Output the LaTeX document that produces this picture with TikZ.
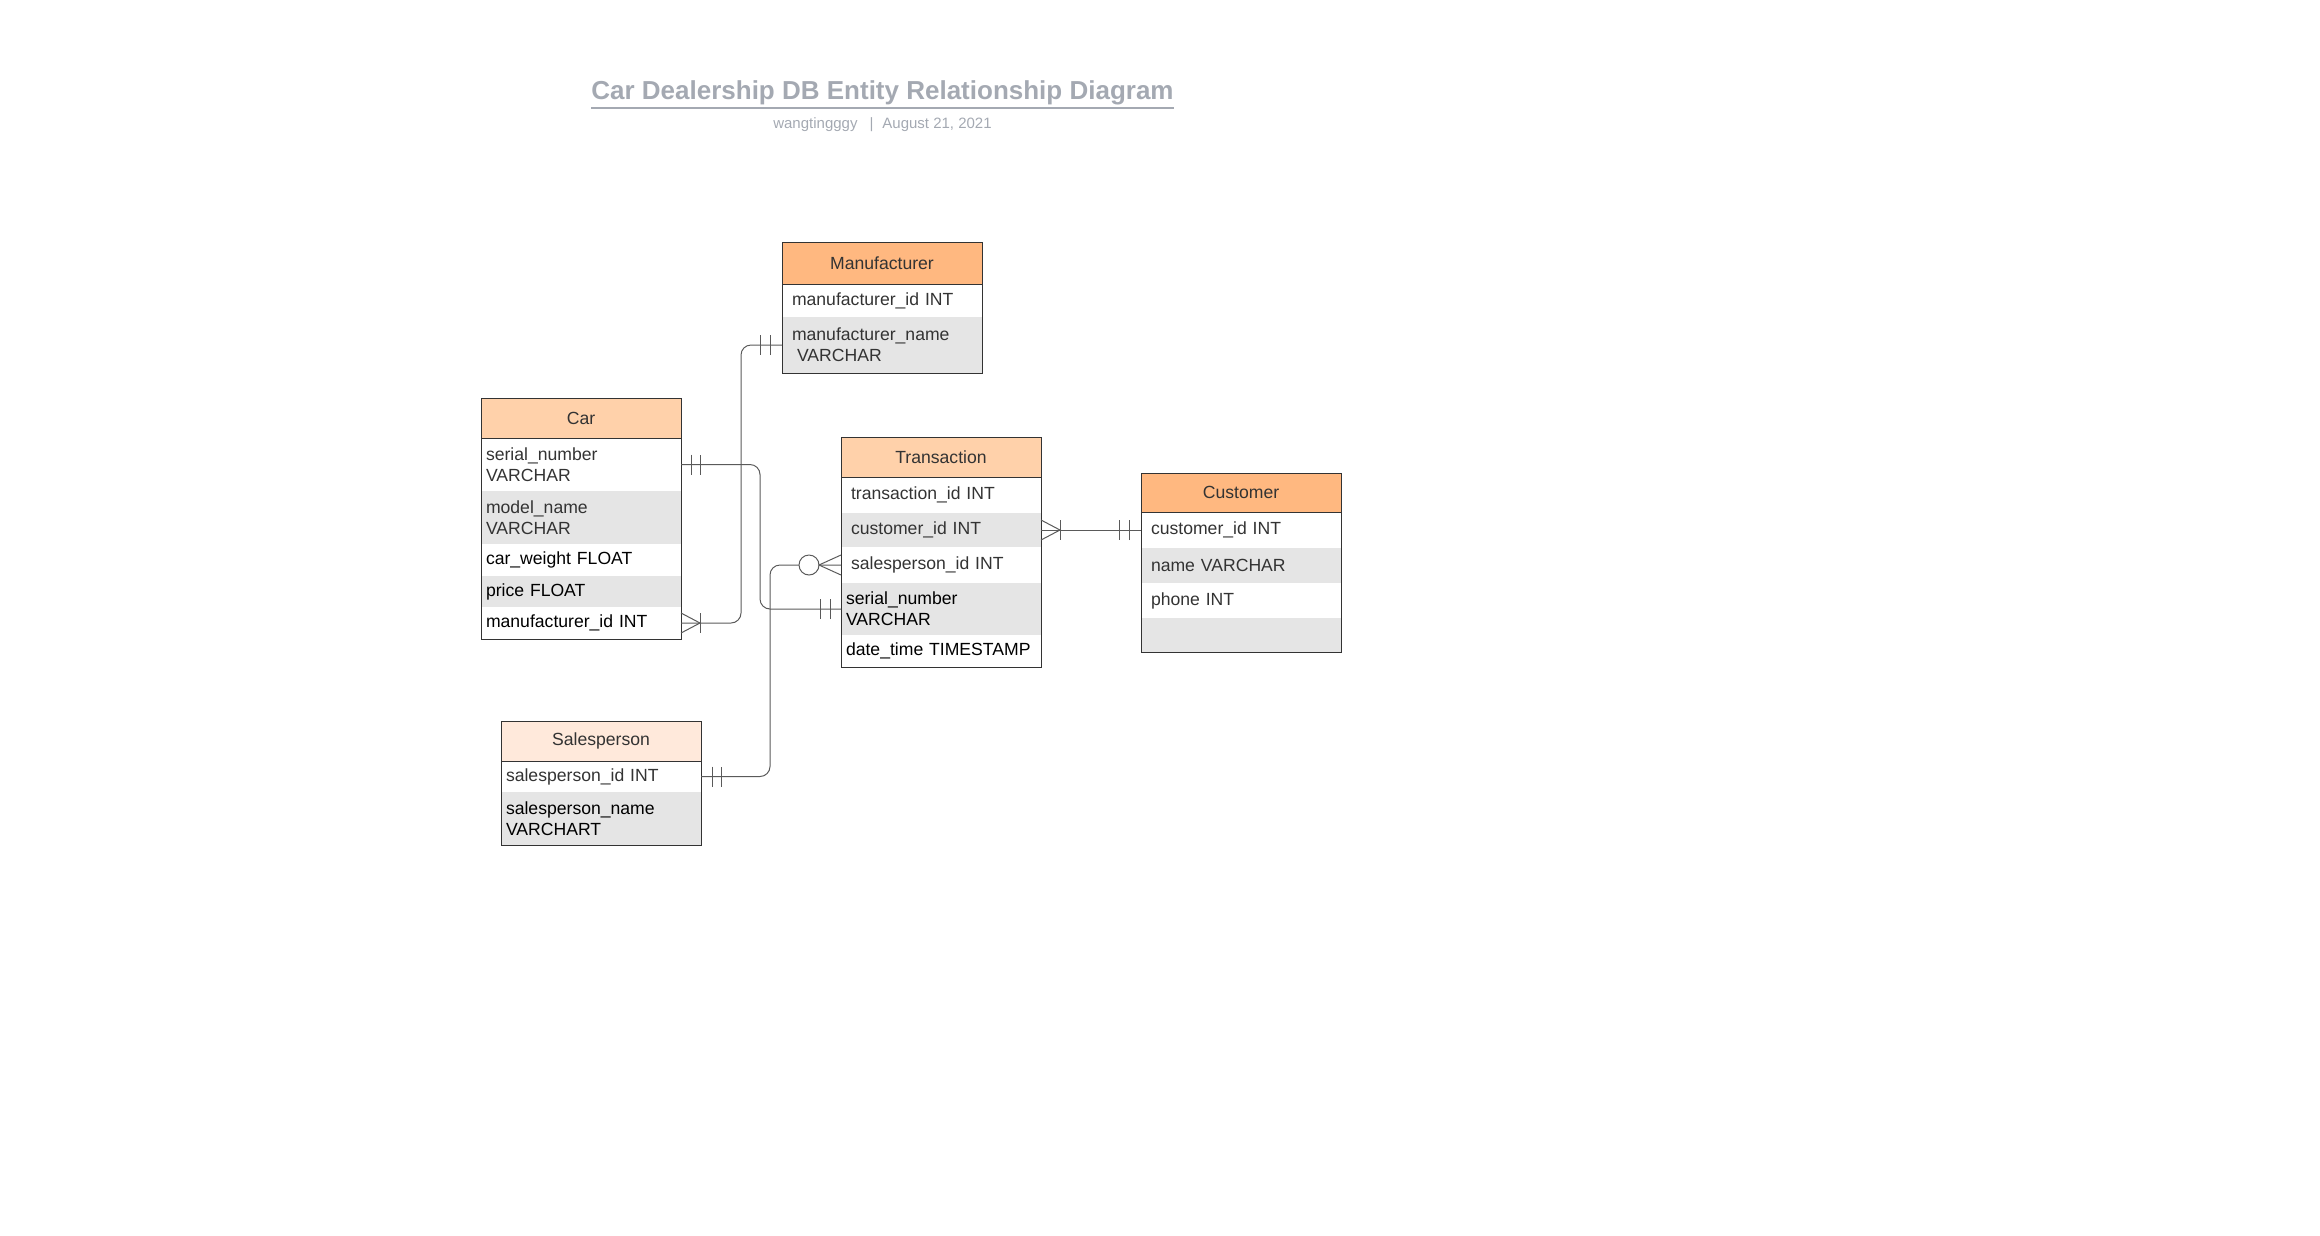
\documentclass[tikz,border=0pt]{standalone}
\usepackage{fontspec}
\setmainfont{Liberation Sans}
\definecolor{peach}{HTML}{FFD1AA}
\definecolor{apricot}{HTML}{FFB880}
\definecolor{blush}{HTML}{FFE9DB}
\definecolor{rowgray}{HTML}{E5E5E5}
\definecolor{edge}{HTML}{333333}
\definecolor{wire}{HTML}{5A5A5A}
\definecolor{ink}{HTML}{333333}
\definecolor{titlegray}{HTML}{A4A9B2}
\begin{document}
\begin{tikzpicture}[x=1pt, y=-1pt,
    every node/.style={rectangle, inner ysep=0pt, outer sep=0pt, text=ink,
      font=\fontsize{17.6}{21}\selectfont},
    entityhead/.style={draw=edge, line width=1pt, anchor=north west,
      minimum width=200pt, inner xsep=0pt, align=center},
    row/.style={anchor=north west, inner xsep=5pt, text width=190pt, align=left},
    rowin/.style={row, inner xsep=10pt, text width=180pt},
    grayrow/.style={fill=rowgray},
    boxline/.style={draw=edge, line width=1pt},
    relline/.style={draw=wire, line width=1pt, rounded corners=10pt},
    erline/.style={draw=wire, line width=1pt}]
  \useasboundingbox (0,0) rectangle (2320,1235);
  % Title
  \node[inner xsep=0pt, text=titlegray, font=\fontsize{26}{30}\selectfont\bfseries]
    (title) at (882.5,93) {Car Dealership DB Entity Relationship Diagram};
  \draw[titlegray, line width=2pt] ([yshift=-3pt]title.south west) -- ([yshift=-3pt]title.south east);
  \node[text=titlegray, font=\fontsize{15}{18}\selectfont] (byline) at (882.5,125)
    {wangtingggy\hspace{12pt}|\hspace{9pt}August 21, 2021};
  % Manufacturer
  \node[entityhead, fill=apricot, minimum height=42pt] (mfr) at (782,242) {Manufacturer};
  \node[rowin, minimum height=33pt] (mfr1) at (mfr.south west) {manufacturer\_id INT};
  \node[rowin, grayrow, minimum height=56pt] (mfr2) at (mfr1.south west) {manufacturer\_name\\\hspace*{5pt}VARCHAR};
  \draw[boxline] (mfr.north west) rectangle (mfr2.south east);
  % Car
  \node[entityhead, fill=peach, minimum height=40pt] (car) at (481,398) {Car};
  \node[row, minimum height=53pt] (car1) at (car.south west) {serial\_number\\VARCHAR};
  \node[row, grayrow, minimum height=53pt] (car2) at (car1.south west) {model\_name\\VARCHAR};
  \node[row, text=black, minimum height=32pt] (car3) at (car2.south west) {car\_weight FLOAT};
  \node[row, grayrow, text=black, minimum height=31pt] (car4) at (car3.south west) {price FLOAT};
  \node[row, text=black, minimum height=32pt] (car5) at (car4.south west) {manufacturer\_id INT};
  \draw[boxline] (car.north west) rectangle (car5.south east);
  % Transaction
  \node[entityhead, fill=peach, minimum height=40pt] (trn) at (841,437) {Transaction};
  \node[rowin, minimum height=36pt] (trn1) at (trn.south west) {transaction\_id INT};
  \node[rowin, grayrow, minimum height=34pt] (trn2) at (trn1.south west) {customer\_id INT};
  \node[rowin, minimum height=36pt] (trn3) at (trn2.south west) {salesperson\_id INT};
  \node[row, grayrow, text=black, minimum height=52pt] (trn4) at (trn3.south west) {serial\_number\\VARCHAR};
  \node[row, text=black, minimum height=32pt] (trn5) at (trn4.south west) {date\_time TIMESTAMP};
  \draw[boxline] (trn.north west) rectangle (trn5.south east);
  % Customer
  \node[entityhead, fill=apricot, minimum height=39pt] (cus) at (1141,473) {Customer};
  \node[rowin, minimum height=36pt] (cus1) at (cus.south west) {customer\_id INT};
  \node[rowin, grayrow, minimum height=35pt] (cus2) at (cus1.south west) {name VARCHAR};
  \node[rowin, minimum height=35pt] (cus3) at (cus2.south west) {phone INT};
  \node[rowin, grayrow, minimum height=34pt] (cus4) at (cus3.south west) {};
  \draw[boxline] (cus.north west) rectangle (cus4.south east);
  % Salesperson
  \node[entityhead, fill=blush, minimum height=40pt] (sal) at (501,721) {Salesperson};
  \node[row, minimum height=31pt] (sal1) at (sal.south west) {salesperson\_id INT};
  \node[row, grayrow, text=black, minimum height=53pt] (sal2) at (sal1.south west) {salesperson\_name\\VARCHART};
  \draw[boxline] (sal.north west) rectangle (sal2.south east);
  % Car -- Manufacturer
  \draw[relline] (car5.east) -- ++(60,0) |- (mfr2.west);
  \draw[erline] (car5.east) ++(0,-10) -- ++(19,10) -- ++(-19,10);
  \draw[erline] (car5.east) ++(19,-10) -- ++(0,20);
  \draw[erline] (mfr2.west) ++(-22,-10) -- ++(0,20) ++(10,0) -- ++(0,-20);
  % Car -- Transaction
  \draw[relline] (car1.east) -- ++(79,0) |- (trn4.west);
  \draw[erline] (car1.east) ++(10,-10) -- ++(0,20) ++(9,0) -- ++(0,-20);
  \draw[erline] (trn4.west) ++(-21,-10) -- ++(0,20) ++(10,0) -- ++(0,-20);
  % Salesperson -- Transaction
  \draw[relline] (sal1.east) -- ++(69,0) |- (trn3.west);
  \draw[erline] (sal1.east) ++(11,-10) -- ++(0,20) ++(9,0) -- ++(0,-20);
  \draw[erline, fill=white] (trn3.west) ++(-32,0) circle[radius=10];
  \draw[erline] (trn3.west) ++(0,-10) -- ++(-22,10) -- ++(22,10);
  % Transaction -- Customer
  \draw[relline] (trn2.east) -- (cus1.west);
  \draw[erline] (trn2.east) ++(0,-10) -- ++(19,10) -- ++(-19,10);
  \draw[erline] (trn2.east) ++(19,-10) -- ++(0,20);
  \draw[erline] (cus1.west) ++(-22,-10) -- ++(0,20) ++(10,0) -- ++(0,-20);
\end{tikzpicture}
\end{document}
